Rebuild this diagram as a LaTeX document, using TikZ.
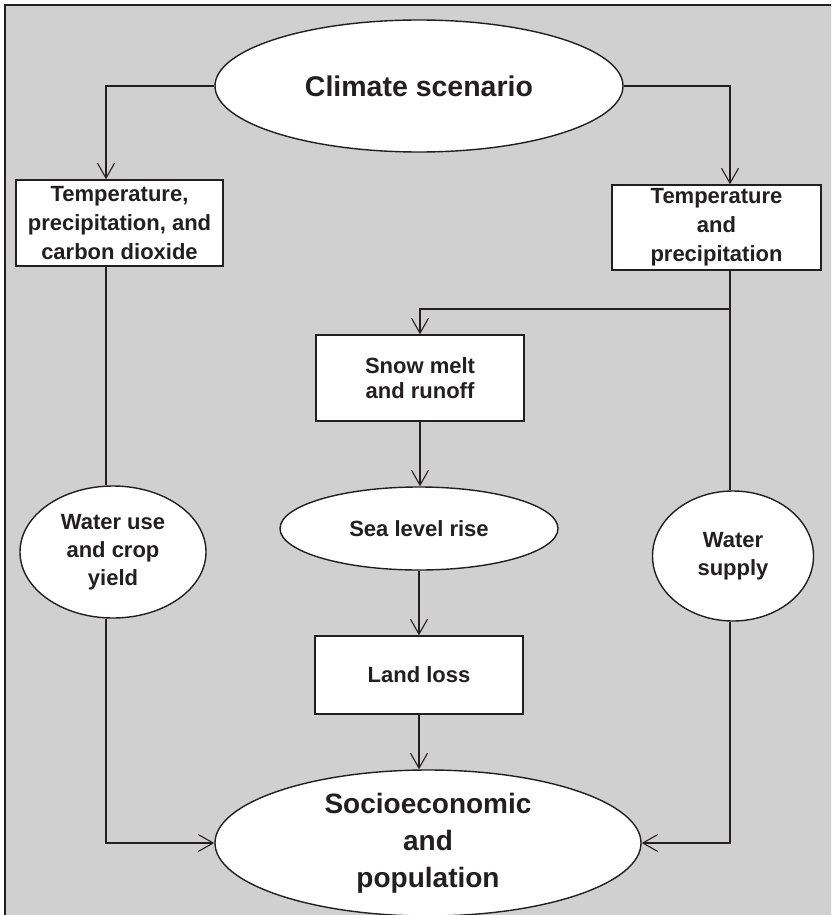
\documentclass[tikz,border=0pt]{standalone}
\usepackage{fontspec}
\setmainfont{Liberation Sans}
\usetikzlibrary{shapes.geometric,arrows.meta}
\definecolor{panelgray}{HTML}{D0D0D0}
\definecolor{inkdark}{HTML}{231F20}

\begin{document}
\begin{tikzpicture}[x=1pt,y=-1pt,
  >={Straight Barb[length=15pt,width=17pt]},
  link/.style={draw=inkdark,line width=1.1pt},
  boxnode/.style={draw=inkdark,fill=white,line width=1.4pt,inner sep=0pt,align=center,text=inkdark,font=\bfseries\fontsize{22}{29}\selectfont},
  ovalnode/.style={ellipse,draw=inkdark,fill=white,line width=1.4pt,inner sep=0pt,align=center,text=inkdark,font=\bfseries\fontsize{22}{28}\selectfont}]
\useasboundingbox (0,0) rectangle (831,915);
\clip (0,0) rectangle (831,915);
\draw[inkdark,line width=2pt,fill=panelgray] (5,5) rectangle (840,925);
\coordinate (colL) at (106,0);
\coordinate (colR) at (730,0);
\coordinate (split) at (730,309);
\node[ovalnode,minimum width=408pt,minimum height=132pt,font=\bfseries\fontsize{28.5}{34}\selectfont] (climate) at (419,86) {Climate scenario};
\node[boxnode,minimum width=207pt,minimum height=86pt] (lbox) at (119.5,223) {Temperature,\\precipitation, and\\carbon dioxide};
\node[boxnode,minimum width=209pt,minimum height=85pt] (rbox) at (716.5,227.5) {Temperature\\and\\precipitation};
\node[boxnode,minimum width=208pt,minimum height=86pt,font=\bfseries\fontsize{22}{25}\selectfont] (snow) at (420,378) {Snow melt\\and runoff};
\node[ovalnode,minimum width=278pt,minimum height=83pt] (sealevel) at (419,528.5) {Sea level rise};
\node[boxnode,minimum width=208pt,minimum height=78pt] (landloss) at (419,675) {Land loss};
\node[ovalnode,minimum width=186pt,minimum height=132pt] (wateruse) at (113,552) {Water use\\and crop\\yield};
\node[ovalnode,minimum width=161pt,minimum height=130pt] (watersupply) at (733,556) {Water\\supply};
\node[ovalnode,minimum width=426pt,minimum height=146pt,font=\bfseries\fontsize{28}{37}\selectfont] (socio) at (428,843) {Socioeconomic\\and\\population};
% top split
\draw[link,->] (climate.west) -| (lbox.north -| colL);
\draw[link,->] (climate.east) -| (rbox.north -| colR);
% side columns
\draw[link] (lbox.south -| colL) -- (wateruse.north -| colL);
\draw[link] (rbox.south -| colR) -- (watersupply.north -| colR);
\draw[link,->] (wateruse.south -| colL) |- (socio.west);
\draw[link,->] (watersupply.south -| colR) |- (socio.east);
% middle chain
\draw[link,->] (split) -| (snow.north);
\draw[link,->] (snow.south) -- (snow.south |- sealevel.north);
\draw[link,->] (sealevel.south) -- (landloss.north);
\draw[link,->] (landloss.south) -- (landloss.south |- socio.north);
\end{tikzpicture}
\end{document}
